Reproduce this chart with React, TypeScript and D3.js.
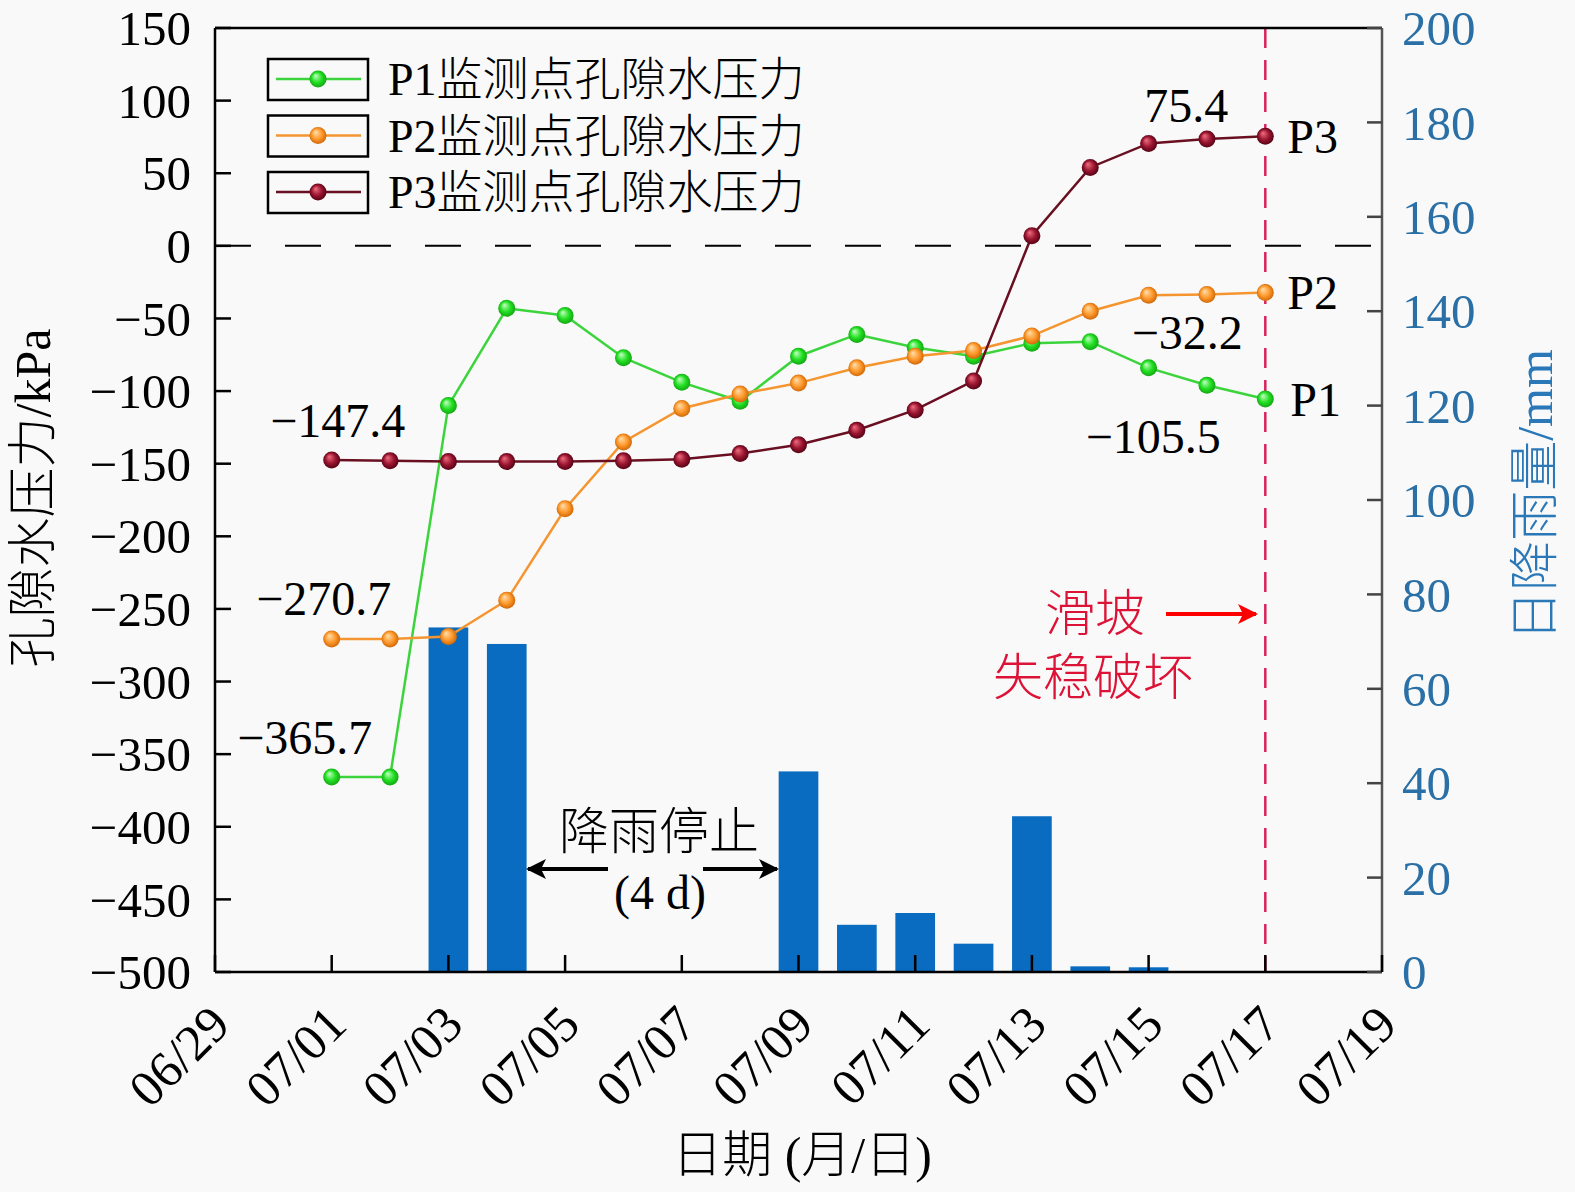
import React, { useRef, useEffect } from 'react';
import * as d3 from 'd3';

// pore water pressure (kPa), daily readings
const dates = ['07/01', '07/02', '07/03', '07/04', '07/05', '07/06', '07/07', '07/08', '07/09',
  '07/10', '07/11', '07/12', '07/13', '07/14', '07/15', '07/16', '07/17'];
const p1 = [-365.7, -365.7, -110, -43, -48, -77, -94, -107, -76, -61, -70, -76, -67, -66, -84, -96, -105.5];
const p2 = [-270.7, -270.7, -269, -244, -181, -135, -112, -102, -94.5, -84, -76, -72, -62, -45, -34, -33.5, -32.2];
const p3 = [-147.4, -148, -148.5, -148.5, -148.5, -148, -147, -143, -137, -127, -113, -93, 7, 54, 70.5, 73.5, 75.4];

// daily rainfall (mm)
const rainDates = ['07/03', '07/04', '07/09', '07/10', '07/11', '07/12', '07/13', '07/14', '07/15'];
const rain = [73, 69.5, 42.5, 10, 12.5, 6, 33, 1.2, 1];

const xTicks = ['06/29', '07/01', '07/03', '07/05', '07/07', '07/09', '07/11', '07/13', '07/15', '07/17', '07/19'];
const leftTicks = [150, 100, 50, 0, -50, -100, -150, -200, -250, -300, -350, -400, -450, -500];
const rightTicks = [0, 20, 40, 60, 80, 100, 120, 140, 160, 180, 200];
const seriesNames = ['P1监测点孔隙水压力', 'P2监测点孔隙水压力', 'P3监测点孔隙水压力'];

const FONT = "'Liberation Serif', 'Times New Roman', 'Noto Sans CJK SC', serif";

const App = () => {
  const Svg = useRef<SVGSVGElement>(null);

  useEffect(() => {
    const width = 1575;
    const height = 1192;
    const m = { left: 215, right: 1382, top: 28, bottom: 972 };
    const parse = d3.timeParse('%m/%d');

    const svg = d3.select(Svg.current).attr('width', width).attr('height', height);
    svg.selectAll('*').remove();
    svg.append('rect').attr('width', width).attr('height', height).attr('fill', '#f9f9f9');

    const x = d3.scaleTime()
      .domain([parse(xTicks[0]) as Date, parse(xTicks[xTicks.length - 1]) as Date])
      .range([m.left, m.right]);
    const y = d3.scaleLinear().domain([-500, 150]).range([m.bottom, m.top]);
    const yR = d3.scaleLinear().domain([0, 200]).range([m.bottom, m.top]);
    const dayW = x(parse('07/02') as Date) - x(parse('07/01') as Date);

    // gradients for ball markers
    const defs = svg.append('defs');
    const series = [
      { name: seriesNames[0], data: p1, line: '#3cd43c', hi: '#c8ffc8', mid: '#22e022', lo: '#129c12' },
      { name: seriesNames[1], data: p2, line: '#f5952f', hi: '#ffe0b0', mid: '#ff9a2e', lo: '#c86000' },
      { name: seriesNames[2], data: p3, line: '#6a0f22', hi: '#f07080', mid: '#9a1530', lo: '#4a0010' },
    ];
    series.forEach((s, i) => {
      const g = defs.append('radialGradient').attr('id', `ball${i}`)
        .attr('cx', '50%').attr('cy', '50%').attr('r', '55%').attr('fx', '35%').attr('fy', '30%');
      g.append('stop').attr('offset', '0%').attr('stop-color', s.hi);
      g.append('stop').attr('offset', '55%').attr('stop-color', s.mid);
      g.append('stop').attr('offset', '100%').attr('stop-color', s.lo);
    });
    const arrowDef = (id: string, color: string) => {
      defs.append('marker').attr('id', id).attr('viewBox', '0 0 10 10')
        .attr('refX', 9).attr('refY', 5).attr('markerWidth', 5).attr('markerHeight', 5)
        .attr('markerUnits', 'strokeWidth').attr('orient', 'auto')
        .append('path').attr('d', 'M0,0 L10,5 L0,10 L2.5,5 Z').attr('fill', color);
    };
    arrowDef('arrBlack', '#000');
    arrowDef('arrRed', '#ff0000');

    // rainfall bars
    svg.append('g').selectAll('rect').data(rain).enter().append('rect')
      .attr('x', (d, i) => x(parse(rainDates[i]) as Date) - dayW * 0.34)
      .attr('width', dayW * 0.68)
      .attr('y', (d) => yR(d))
      .attr('height', (d) => m.bottom - yR(d))
      .attr('fill', '#0a6cc0');

    // zero line
    svg.append('line').attr('x1', m.left).attr('x2', m.right).attr('y1', y(0)).attr('y2', y(0))
      .attr('stroke', '#000').attr('stroke-width', 2).attr('stroke-dasharray', '36 34');

    // failure line
    const failX = x(parse('07/17') as Date);
    svg.append('line').attr('x1', failX).attr('x2', failX).attr('y1', m.top).attr('y2', m.bottom)
      .attr('stroke', '#d8245e').attr('stroke-width', 2.5).attr('stroke-dasharray', '20 12');

    // series
    const line = d3.line<number>().x((d, i) => x(parse(dates[i]) as Date)).y((d) => y(d));
    series.forEach((s, i) => {
      svg.append('path').datum(s.data).attr('d', line).attr('fill', 'none')
        .attr('stroke', s.line).attr('stroke-width', 2.5);
      svg.append('g').selectAll('circle').data(s.data).enter().append('circle')
        .attr('cx', (d, j) => x(parse(dates[j]) as Date)).attr('cy', (d) => y(d))
        .attr('r', 8.5).attr('fill', `url(#ball${i})`);
    });

    // axes
    const axisG = svg.append('g').attr('font-family', FONT);
    axisG.append('line').attr('x1', m.left).attr('x2', m.right).attr('y1', m.top).attr('y2', m.top)
      .attr('stroke', '#000').attr('stroke-width', 2.5);
    axisG.append('line').attr('x1', m.left).attr('x2', m.right).attr('y1', m.bottom).attr('y2', m.bottom)
      .attr('stroke', '#000').attr('stroke-width', 2.5);
    axisG.append('line').attr('x1', m.left).attr('x2', m.left).attr('y1', m.top).attr('y2', m.bottom)
      .attr('stroke', '#000').attr('stroke-width', 2.5);
    axisG.append('line').attr('x1', m.right).attr('x2', m.right).attr('y1', m.top).attr('y2', m.bottom)
      .attr('stroke', '#555').attr('stroke-width', 2.5);

    const fmt = d3.format('');
    leftTicks.forEach((t) => {
      axisG.append('line').attr('x1', m.left).attr('x2', m.left + 16).attr('y1', y(t)).attr('y2', y(t))
        .attr('stroke', '#000').attr('stroke-width', 2.5);
      axisG.append('text').attr('x', 191).attr('y', y(t)).attr('dy', '0.35em')
        .attr('text-anchor', 'end').attr('font-size', 49).text(fmt(t));
    });
    rightTicks.forEach((t) => {
      axisG.append('line').attr('x1', m.right - 15).attr('x2', m.right).attr('y1', yR(t)).attr('y2', yR(t))
        .attr('stroke', '#444').attr('stroke-width', 2.5);
      axisG.append('text').attr('x', 1402).attr('y', yR(t)).attr('dy', '0.35em')
        .attr('text-anchor', 'start').attr('font-size', 49).attr('fill', '#2a6fa5').text(fmt(t));
    });
    xTicks.forEach((t) => {
      const px = x(parse(t) as Date);
      axisG.append('line').attr('x1', px).attr('x2', px).attr('y1', m.bottom).attr('y2', m.bottom - 17)
        .attr('stroke', '#000').attr('stroke-width', 2.5);
      axisG.append('text').attr('transform', `translate(${px - 8},${m.bottom + 30}) rotate(-45)`)
        .attr('dy', '0.7em').attr('text-anchor', 'end').attr('font-size', 51).text(t);
    });

    // axis titles
    axisG.append('text').attr('transform', `translate(50,498) rotate(-90)`)
      .attr('text-anchor', 'middle').attr('font-size', 50).attr('font-weight', 300).text('孔隙水压力/kPa');
    axisG.append('text').attr('transform', `translate(1552,495) rotate(-90)`)
      .attr('text-anchor', 'middle').attr('font-size', 50).attr('font-weight', 300)
      .attr('fill', '#2a78b8').text('日降雨量/mm');
    axisG.append('text').attr('x', 802).attr('y', 1172)
      .attr('text-anchor', 'middle').attr('font-size', 50).attr('font-weight', 300).text('日期 (月/日)');

    // legend
    const leg = svg.append('g').attr('font-family', FONT);
    series.forEach((s, i) => {
      const cy = 79 + i * 56.5;
      leg.append('rect').attr('x', 268).attr('y', cy - 20).attr('width', 100).attr('height', 41)
        .attr('fill', 'none').attr('stroke', '#000').attr('stroke-width', 2.5);
      leg.append('line').attr('x1', 276).attr('x2', 361).attr('y1', cy).attr('y2', cy)
        .attr('stroke', s.line).attr('stroke-width', 2.5);
      leg.append('circle').attr('cx', 318).attr('cy', cy).attr('r', 8.5).attr('fill', `url(#ball${i})`);
      leg.append('text').attr('x', 388).attr('y', cy).attr('dy', '0.35em')
        .attr('font-size', 46).attr('font-weight', 300).text(s.name);
    });

    // annotations
    const ann = svg.append('g').attr('font-family', FONT).attr('font-size', 48);
    const x0 = x(parse(dates[0]) as Date);
    const xEnd = x(parse(dates[dates.length - 1]) as Date);
    const f1 = d3.format('.1f');
    ann.append('text').attr('x', x0 + 6).attr('y', 420).attr('dy', '0.35em').attr('text-anchor', 'middle').text(f1(p3[0]));
    ann.append('text').attr('x', x0 - 8).attr('y', 598).attr('dy', '0.35em').attr('text-anchor', 'middle').text(f1(p2[0]));
    ann.append('text').attr('x', x0 - 27).attr('y', 737).attr('dy', '0.35em').attr('text-anchor', 'middle').text(f1(p1[0]));
    ann.append('text').attr('x', xEnd - 79).attr('y', 105).attr('dy', '0.35em').attr('text-anchor', 'middle').text(f1(p3[16]));
    ann.append('text').attr('x', xEnd - 78).attr('y', 332).attr('dy', '0.35em').attr('text-anchor', 'middle').text(f1(p2[16]));
    ann.append('text').attr('x', xEnd - 112).attr('y', 436).attr('dy', '0.35em').attr('text-anchor', 'middle').text(f1(p1[16]));
    ann.append('text').attr('x', xEnd + 22).attr('y', y(p3[16])).attr('dy', '0.35em').text('P3');
    ann.append('text').attr('x', xEnd + 22).attr('y', y(p2[16])).attr('dy', '0.35em').text('P2');
    ann.append('text').attr('x', xEnd + 25).attr('y', y(p1[16])).attr('dy', '0.35em').text('P1');

    // rain stop annotation
    ann.append('text').attr('x', 659).attr('y', 831).attr('dy', '0.35em').attr('text-anchor', 'middle')
      .attr('font-size', 50).attr('font-weight', 300).text('降雨停止');
    ann.append('text').attr('x', 660).attr('y', 892).attr('dy', '0.35em').attr('text-anchor', 'middle').text('(4 d)');
    ann.append('line').attr('x1', 608).attr('x2', 528).attr('y1', 869).attr('y2', 869)
      .attr('stroke', '#000').attr('stroke-width', 4).attr('marker-end', 'url(#arrBlack)');
    ann.append('line').attr('x1', 703).attr('x2', 777).attr('y1', 869).attr('y2', 869)
      .attr('stroke', '#000').attr('stroke-width', 4).attr('marker-end', 'url(#arrBlack)');

    // failure annotation
    ann.append('text').attr('x', 1095).attr('y', 613).attr('dy', '0.35em').attr('text-anchor', 'middle')
      .attr('font-size', 50).attr('font-weight', 300).attr('fill', '#dc1236').text('滑坡');
    ann.append('text').attr('x', 1093).attr('y', 677).attr('dy', '0.35em').attr('text-anchor', 'middle')
      .attr('font-size', 50).attr('font-weight', 300).attr('fill', '#dc1236').text('失稳破坏');
    ann.append('line').attr('x1', 1166).attr('x2', 1256).attr('y1', 614).attr('y2', 614)
      .attr('stroke', '#ff0000').attr('stroke-width', 4).attr('marker-end', 'url(#arrRed)');
  }, []);

  return (
    <div style={{ position: 'absolute', left: 0, top: 0 }}>
      <svg ref={Svg} style={{ display: 'block' }} />
    </div>
  );
};

export default App;
